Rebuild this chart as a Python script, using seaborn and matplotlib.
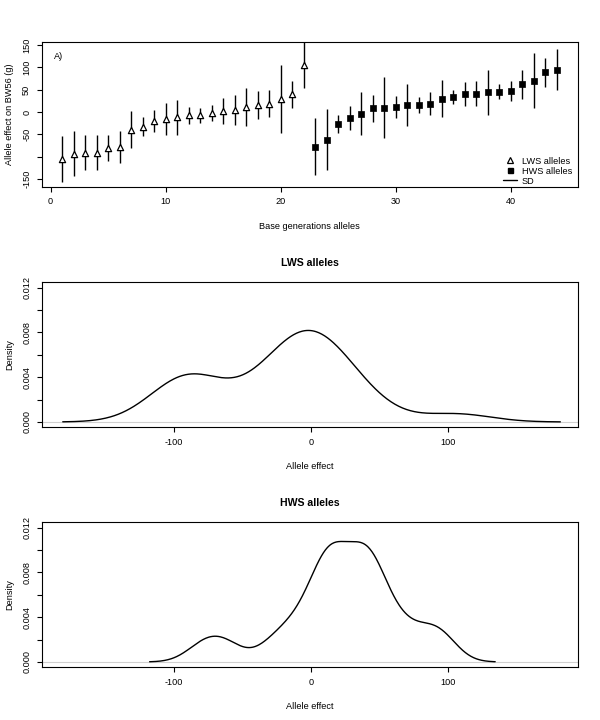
import numpy as np
import pandas as pd
import seaborn as sns
import matplotlib
matplotlib.use('Agg')
import matplotlib.pyplot as plt
from matplotlib.lines import Line2D

# allele effects on BW56 (g), ordered as plotted
lws_effect = [-104.7, -92.8, -91.3, -91.3, -80.2, -78.0, -39.3, -33.4, -20.8, -15.6, -11.9,
              -7.4, -7.4, -2.2, 2.2, 3.7, 10.4, 15.6, 18.6, 29.0, 39.3, 105.4]
lws_sd = [52.0, 50.9, 39.0, 39.0, 29.3, 35.3, 40.8, 21.2, 24.5, 36.4, 39.0,
          18.9, 17.4, 18.6, 29.0, 33.4, 42.3, 32.3, 30.8, 76.0, 30.0, 52.0]
hws_effect = [-78.0, -62.0, -27.0, -13.0, -3.7, 8.2, 9.7, 11.9, 14.9, 15.6, 18.6,
              29.7, 33.4, 40.0, 40.8, 43.8, 45.3, 46.0, 61.7, 70.0, 88.6, 94.5]
hws_sd = [63.8, 68.3, 20.0, 26.4, 48.3, 29.7, 68.0, 24.5, 47.0, 17.0, 26.0,
          41.2, 14.8, 26.7, 27.8, 51.2, 17.0, 22.3, 31.6, 61.2, 33.0, 45.7]

lws_pos = list(range(1, len(lws_effect) + 1))
hws_pos = list(range(len(lws_effect) + 1, len(lws_effect) + len(hws_effect) + 1))

df = pd.DataFrame({
    'pos': lws_pos + hws_pos,
    'effect': lws_effect + hws_effect,
    'sd': lws_sd + hws_sd,
    'group': ['LWS'] * len(lws_effect) + ['HWS'] * len(hws_effect),
})

sns.set_theme(style='ticks')
fs = 6.6
plt.rcParams['font.family'] = ['Liberation Sans', 'DejaVu Sans']
plt.rcParams.update({
    'font.size': fs,
    'axes.labelsize': fs,
    'axes.titlesize': 7.6,
    'legend.fontsize': fs,
    'xtick.labelsize': fs,
    'ytick.labelsize': fs,
    'axes.linewidth': 0.8,
    'xtick.major.width': 0.8,
    'ytick.major.width': 0.8,
    'xtick.major.size': 3.6,
    'ytick.major.size': 3.6,
    'axes.edgecolor': 'black',
    'xtick.color': 'black',
    'ytick.color': 'black',
    'axes.labelcolor': 'black',
    'text.color': 'black',
    'axes.unicode_minus': False,
})

fig = plt.figure(figsize=(6, 7.2), dpi=100)
ax1 = fig.add_axes([0.0695, 0.7407, 0.8933, 0.2006])
ax2 = fig.add_axes([0.0695, 0.4065, 0.8933, 0.2014])
ax3 = fig.add_axes([0.0695, 0.0732, 0.8933, 0.2014])

# --- panel A: allele effects with SD bars
ax1.errorbar(df['pos'], df['effect'], yerr=df['sd'], fmt='none', ecolor='black',
             elinewidth=1.0, capsize=0, zorder=2)
lws = df[df['group'] == 'LWS']
hws = df[df['group'] == 'HWS']
sns.scatterplot(data=lws, x='pos', y='effect', marker='^', s=20, color='white',
                edgecolor='black', linewidth=0.9, ax=ax1, zorder=3, legend=False)
sns.scatterplot(data=hws, x='pos', y='effect', marker='s', s=14, color='black',
                edgecolor='black', linewidth=0.5, ax=ax1, zorder=3, legend=False)
ax1.set_xlim(-0.78, 45.8)
ax1.set_ylim(-167, 156)
ax1.set_xticks([0, 10, 20, 30, 40])
ax1.set_yticks([-150, -100, -50, 0, 50, 100, 150])
ax1.set_yticklabels(['-150', '', '-50', '0', '50', '100', '150'], rotation=90, va='center')
ax1.set_xlabel('Base generations alleles', labelpad=11)
ax1.set_ylabel('Allele effect on BW56 (g)', labelpad=6)
ax1.text(0.022, 0.9, 'A)', transform=ax1.transAxes, va='center')

handles = [
    Line2D([], [], marker='^', color='black', markerfacecolor='white', linestyle='none',
           markersize=4.4, markeredgewidth=0.9),
    Line2D([], [], marker='s', color='black', linestyle='none', markersize=3.6),
    Line2D([], [], color='black', linewidth=1.0),
]
ax1.legend(handles, ['LWS alleles', 'HWS alleles', 'SD'], loc='lower right',
           bbox_to_anchor=(1.0, -0.03), frameon=False,
           labelspacing=0.1, handlelength=1.6, handletextpad=0.5, borderaxespad=0.2)


def r_bandwidth_adjust(values):
    # match R's bw.nrd0 default with seaborn's scott-based kde
    v = np.asarray(values)
    sd = v.std(ddof=1)
    iqr = np.subtract(*np.percentile(v, [75, 25]))
    return 0.9 * min(sd, iqr / 1.34) / sd


for ax, values, title in [(ax2, lws_effect, 'LWS alleles'), (ax3, hws_effect, 'HWS alleles')]:
    ax.axhline(0, color='#d0d0d0', linewidth=0.8, zorder=1)
    sns.kdeplot(x=values, bw_adjust=r_bandwidth_adjust(values), cut=3, gridsize=512,
                color='black', linewidth=1.0, ax=ax, zorder=2)
    ax.set_xlim(-196, 194)
    ax.set_ylim(-0.00048, 0.01248)
    ax.set_xticks([-100, 0, 100])
    ax.set_yticks([0, 0.002, 0.004, 0.006, 0.008, 0.010, 0.012])
    ax.set_yticklabels(['0.000', '', '0.004', '', '0.008', '', '0.012'], rotation=90, va='center')
    ax.set_title(title, fontweight='bold', pad=12)
    ax.set_xlabel('Allele effect', labelpad=11)
    ax.set_ylabel('Density', labelpad=6)

for ax in (ax1, ax2, ax3):
    ax.tick_params(axis='both', which='major', pad=4)
    for sp in ax.spines.values():
        sp.set_visible(True)

fig.savefig('out.png', dpi=100)
